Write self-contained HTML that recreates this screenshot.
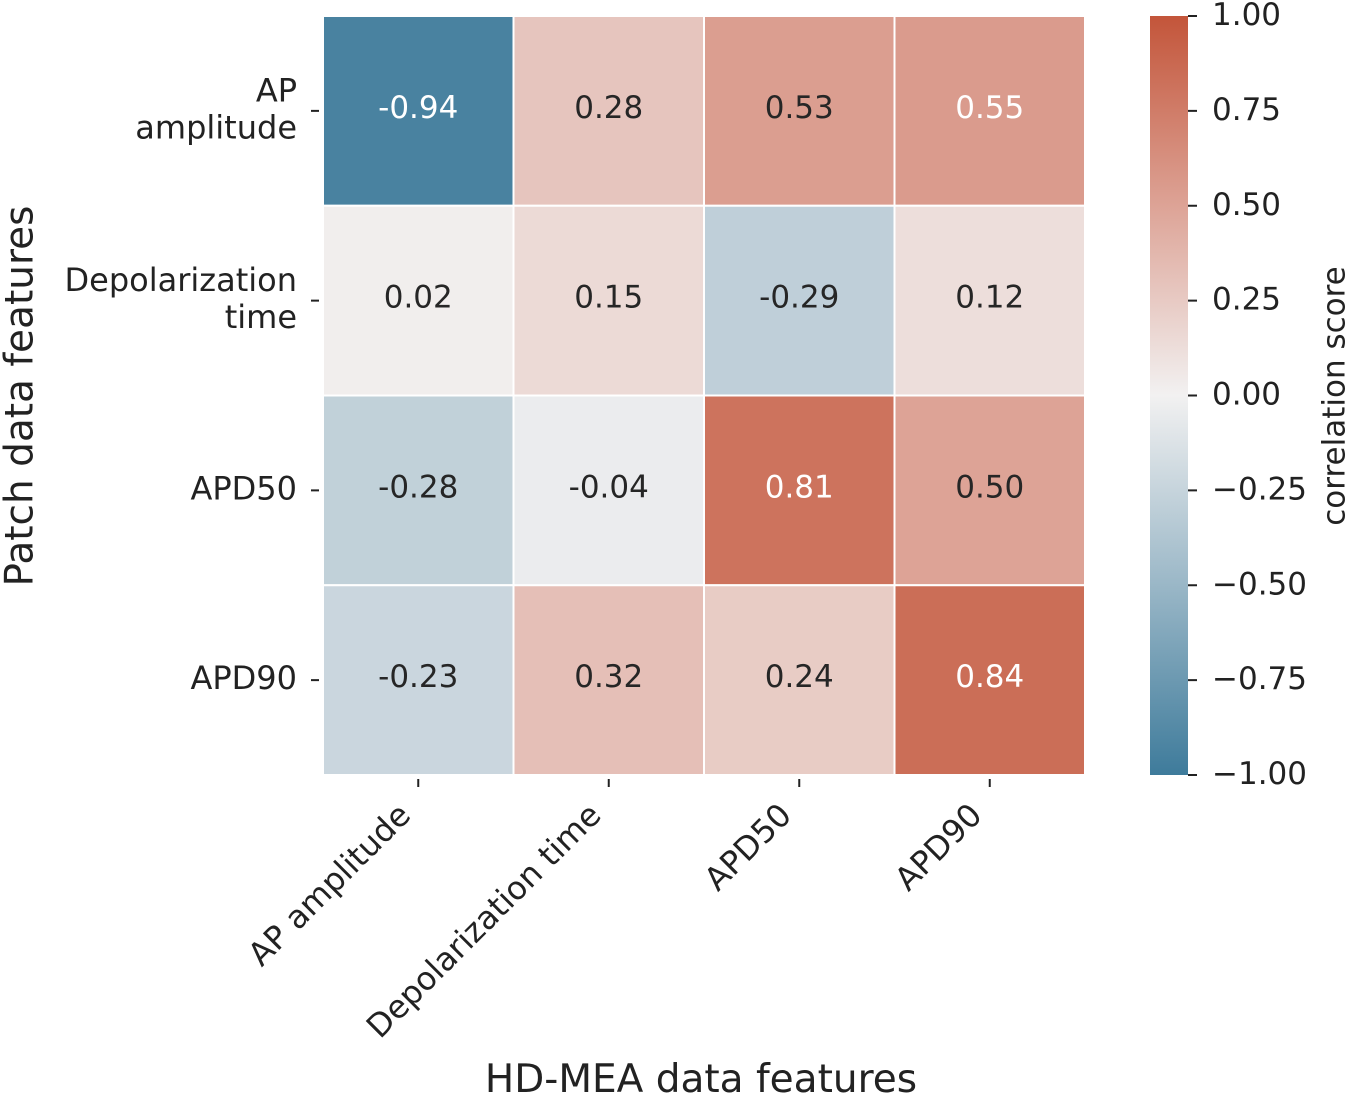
<!DOCTYPE html>
<html><head><meta charset="utf-8"><style>
body{margin:0;background:#fff;}
svg text{font-family:"DejaVu Sans","Liberation Sans",sans-serif;}
</style></head><body>
<svg id="chart" width="1350" height="1097">
<defs><linearGradient id="cbg" x1="0" y1="1" x2="0" y2="0">
<stop offset="0" stop-color="#3e7b9b"/><stop offset="0.25" stop-color="#9ab7c7"/><stop offset="0.5" stop-color="#f2f1f1"/><stop offset="0.75" stop-color="#dda396"/><stop offset="1" stop-color="#c3553a"/>
</linearGradient></defs>
<g id="cells"></g>
<rect x="1150" y="16" width="38" height="759" fill="url(#cbg)"/>
<g id="cbticks"></g>
<text x="1336" y="396" font-size="31" text-anchor="middle" transform="rotate(-90 1336 396)" fill="#222" dominant-baseline="middle">correlation score</text>
<text x="701" y="1092" font-size="39" text-anchor="middle" fill="#222">HD-MEA data features</text>
<text x="22" y="396" font-size="39" text-anchor="middle" transform="rotate(-90 22 396)" fill="#222" dominant-baseline="middle">Patch data features</text>
</svg>
<script>
const rowLabels=[["AP","amplitude"],["Depolarization","time"],["APD50"],["APD90"]];
const colLabels=["AP amplitude","Depolarization time","APD50","APD90"];
const values=[[-0.94,0.28,0.53,0.55],[0.02,0.15,-0.29,0.12],[-0.28,-0.04,0.81,0.50],[-0.23,0.32,0.24,0.84]];
const cbTicks=[1,0.75,0.5,0.25,0,-0.25,-0.5,-0.75,-1];
const NS="http://www.w3.org/2000/svg";
const X0=323,X1=1085,Y0=16,Y1=775;
const cw=(X1-X0)/colLabels.length, ch=(Y1-Y0)/rowLabels.length;
const stops=[[-1,[62,123,155]],[-0.5,[154,183,199]],[0,[242,241,241]],[0.5,[221,163,150]],[1,[195,85,58]]];
function color(v){for(let i=0;i<stops.length-1;i++){const a=stops[i],b=stops[i+1];if(v<=b[0]){const t=(v-a[0])/(b[0]-a[0]);return a[1].map((c,k)=>Math.round(c+(b[1][k]-c)*t));}}return stops[4][1];}
function lum(c){const f=c.map(x=>{x/=255;return x<=0.03928?x/12.92:Math.pow((x+0.055)/1.055,2.4)});return 0.2126*f[0]+0.7152*f[1]+0.0722*f[2];}
const LT=lum(color(0.54));
function el(t,a,p,txt){const e=document.createElementNS(NS,t);for(const k in a)e.setAttribute(k,a[k]);if(txt!==undefined)e.textContent=txt;p.appendChild(e);return e;}
const g=document.getElementById('cells'),svg=document.getElementById('chart');
values.forEach((row,r)=>row.forEach((v,c)=>{
 const col=color(v);
 const rect=el('rect',{x:X0+c*cw,y:Y0+r*ch,width:cw,height:ch,fill:`rgb(${col})`,stroke:'#fff','stroke-width':2},g);
 
 
 const t=el('text',{x:X0+(c+0.5)*cw,y:Y0+(r+0.5)*ch+7,'font-size':31,'text-anchor':'middle',fill:lum(col)<LT?'#fff':'#262626'},g,(v<0?'-':'')+Math.abs(v).toFixed(2));
 
 
}));
rowLabels.forEach((lb,r)=>{
 const yc=Y0+(r+0.5)*ch;
 el('line',{x1:X0-12,x2:X0-4,y1:yc,y2:yc,stroke:'#222','stroke-width':2},svg);
 lb.forEach((s,i)=>{const t=el('text',{x:297,y:yc+9+(i-(lb.length-1)/2)*37,'font-size':32,'text-anchor':'end',fill:'#222'},svg,s);
 
 });
});
colLabels.forEach((s,c)=>{
 const xc=X0+(c+0.5)*cw;
 el('line',{x1:xc,x2:xc,y1:Y1+4,y2:Y1+12,stroke:'#222','stroke-width':2},svg);
 const ax=xc-6, ay=Y1+42;
 const t=el('text',{x:ax,y:ay,'font-size':32,'text-anchor':'end',fill:'#222',transform:`rotate(-45 ${ax} ${ay})`},svg,s);
 
 
});
const cg=document.getElementById('cbticks');
cbTicks.forEach(v=>{
 const y=Y1-(v+1)/2*(Y1-Y0);
 el('line',{x1:1188,x2:1197,y1:y,y2:y,stroke:'#222','stroke-width':2},cg);
 const t=el('text',{x:1212,y:y+9,'font-size':31,fill:'#222'},cg,(v<0?'\u2212':'')+Math.abs(v).toFixed(2));
 
 
});
</script>
</body></html>
